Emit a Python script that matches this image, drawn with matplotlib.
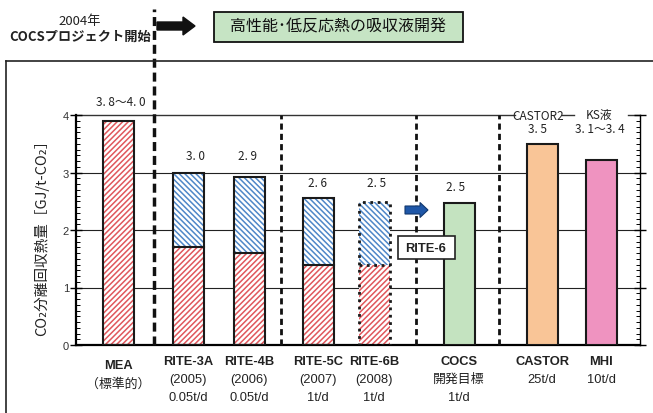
import matplotlib.pyplot as plt
import matplotlib.patches as mpatches
from matplotlib.lines import Line2D
from matplotlib.ticker import MultipleLocator

plt.rcParams["font.family"] = ["Liberation Sans", "Noto Sans CJK JP", "DejaVu Sans"]
plt.rcParams["hatch.linewidth"] = 1.1

# hatched bars: lower (red) part and total height
HATCH_NAMES = ["MEA", "RITE-3A", "RITE-4B", "RITE-5C", "RITE-6B"]
RED_PART = [3.9, 1.7, 1.6, 1.4, 1.4]
TOTAL = [3.9, 3.0, 2.93, 2.56, 2.48]

# solid bars
SOLID_NAMES = ["COCS", "CASTOR", "MHI"]
SOLID_VALUES = [2.47, 3.5, 3.22]
SOLID_COLORS = ["#c4e3c0", "#f9c597", "#ef93c0"]

NAMES = HATCH_NAMES + SOLID_NAMES
SUBLINES = [
    ["（標準的）"],
    ["(2005)", "0.05t/d"],
    ["(2006)", "0.05t/d"],
    ["(2007)", "1t/d"],
    ["(2008)", "1t/d"],
    ["開発目標", "1t/d"],
    ["25t/d"],
    ["10t/d"],
]
VALUE_LABELS = ["3.8～4.0", "3.0", "2.9", "2.6", "2.5", "2.5", "3.5", "3.1～3.4"]

# layout (axis units ~ pixels from the left spine)
X_POS = [42, 112, 173, 242, 298, 383, 466, 525]
BAR_W = 31
LABEL_X = [45, 119, 172, 242, 301, 380, 461, 524]
LABEL_Y = [4.23, 3.29, 3.29, 2.83, 2.83, 2.76, 3.76, 3.76]
DIVIDERS = [78, 205, 340, 423]

RED = "#e0575c"
BLUE = "#4f87c8"
JP = ["Noto Sans CJK JP", "DejaVu Sans"]

W, H = 653, 414


def px(x, y):
    return (x / 100, (H - y) / 100)


fig = plt.figure(figsize=(W / 100, H / 100), dpi=100)
ax = fig.add_axes([76 / W, 1 - 346 / H, 564 / W, 230 / H])
ax.set_xlim(0, 564)
ax.set_ylim(0, 4)

# grid
for g in [1, 2, 3]:
    ax.axhline(g, color="#222222", lw=0.8, zorder=0)

# hatched bars
hx = X_POS[: len(HATCH_NAMES)]
upper = [t - r for t, r in zip(TOTAL, RED_PART)]
ax.bar(hx, RED_PART, width=BAR_W, color="white", edgecolor=RED, hatch="//////", lw=0, zorder=2)
ax.bar(hx, upper, bottom=RED_PART, width=BAR_W, color="white", edgecolor=BLUE,
       hatch="\\" * 6, lw=0, zorder=2)
for i, x in enumerate(hx):
    ls = ":" if HATCH_NAMES[i] == "RITE-6B" else "-"
    lw = 2.0 if ls == ":" else 1.5
    ax.bar(x, TOTAL[i], width=BAR_W, fill=False, edgecolor="#1a1a1a", lw=lw, ls=ls, zorder=3)
    if upper[i] > 0:
        ax.plot([x - BAR_W / 2, x + BAR_W / 2], [RED_PART[i]] * 2, color="#1a1a1a", lw=lw, ls=ls, zorder=3)

# solid bars
sx = X_POS[len(HATCH_NAMES):]
ax.bar(sx, SOLID_VALUES, width=BAR_W, color=SOLID_COLORS, edgecolor="#1a1a1a", lw=1.5, zorder=3)

# dividers
ax.plot([DIVIDERS[0]] * 2, [0, 5.84], color="#111111", lw=2.5, dashes=(2.6, 1.4), clip_on=False, zorder=4)
for d in DIVIDERS[1:]:
    ax.plot([d, d], [0, 4], color="#111111", lw=2.0, dashes=(2.2, 1.5), clip_on=False, zorder=4)

# value labels
for x, y, s in zip(LABEL_X, LABEL_Y, VALUE_LABELS):
    ax.text(x, y, s.replace(".", ". "), ha="center", va="center", fontsize=8.5,
            family=JP, color="#222222", clip_on=False)

# top line, broken by the CASTOR2 / KS液 headings
for a, b in [(0, 439), (486, 498), (552, 564)]:
    ax.plot([a, b], [4, 4], color="#333333", lw=1.0, clip_on=False, zorder=1)
ax.text(462, 4.0, "CASTOR2", ha="center", va="center", fontsize=8.5, family=JP, color="#222222")
ax.text(523, 4.0, "KS液", ha="center", va="center", fontsize=8.5, family=JP, color="#222222")

# axes styling
ax.spines["top"].set_visible(False)
ax.spines["left"].set_linewidth(1.6)
ax.spines["bottom"].set_linewidth(1.6)
ax.spines["right"].set_linewidth(1.0)
ax.set_xticks([])
ax.yaxis.set_major_locator(MultipleLocator(1))
ax.yaxis.set_minor_locator(MultipleLocator(0.1))
ax.yaxis.set_ticks_position("both")
ax.tick_params(axis="y", which="major", direction="inout", length=8, width=1.0,
               labelsize=8, labelcolor="#333333", pad=1)
ax.tick_params(axis="y", which="minor", direction="in", length=3, width=0.7)

# x labels
xt = ax.get_xaxis_transform()
for x, name, subs in zip(X_POS, NAMES, SUBLINES):
    y0 = -0.088 if name == "MEA" else -0.07
    ax.text(x, y0, name, transform=xt, ha="center", va="center", fontsize=9.3,
            fontweight="bold", color="#222222")
    for j, s in enumerate(subs):
        ax.text(x, y0 - 0.078 * (j + 1), s, transform=xt, ha="center", va="center",
                fontsize=9.3, color="#222222")

# y label
fig.text(42 / W, 1 - 234 / H, "CO₂分離回収熱量［GJ/t-CO₂］", rotation=90,
         ha="center", va="center", fontsize=10.5, color="#222222", family=JP)

# outer frame
fig.add_artist(Line2D([6 / W, 6 / W], [0, 1 - 62 / H], color="#222222", lw=1.2))
fig.add_artist(Line2D([6 / W, 1], [1 - 62 / H] * 2, color="#222222", lw=1.2))

# header
dpi_t = fig.dpi_scale_trans
fig.add_artist(mpatches.Rectangle(px(214, 43), 2.49, 0.30, transform=dpi_t,
                                  fc="#c6e4c4", ec="#111111", lw=1.3))
fig.text(338 / W, 1 - 27 / H, "高性能･低反応熱の吸収液開発", ha="center", va="center",
         fontsize=11.5, color="#111111", family=JP)
fig.add_artist(mpatches.FancyArrow(*px(157, 27), 0.38, 0, width=0.08, head_width=0.18,
                                   head_length=0.12, length_includes_head=True,
                                   transform=dpi_t, fc="#111111", ec="#111111"))
fig.text(80 / W, 1 - 22 / H, "2004年", ha="center", va="center", fontsize=9.5,
         color="#222222", family=JP)
fig.text(80 / W, 1 - 37 / H, "COCSプロジェクト開始", ha="center", va="center", fontsize=9.5,
         fontweight="bold", color="#222222", family=JP)

# RITE-6 arrow and box
fig.add_artist(mpatches.FancyArrow(*px(405, 211), 0.23, 0, width=0.08, head_width=0.15,
                                   head_length=0.08, length_includes_head=True,
                                   transform=dpi_t, fc="#1f57a8", ec="#12386e", lw=0.8))
fig.add_artist(mpatches.Rectangle(px(398, 260), 0.57, 0.23, transform=dpi_t,
                                  fc="white", ec="#222222", lw=1.2, zorder=5))
fig.text(426 / W, 1 - 249 / H, "RITE-6", ha="center", va="center", fontsize=9.3,
         fontweight="bold", color="#222222", zorder=6)

fig.savefig("out.png", dpi=100)
